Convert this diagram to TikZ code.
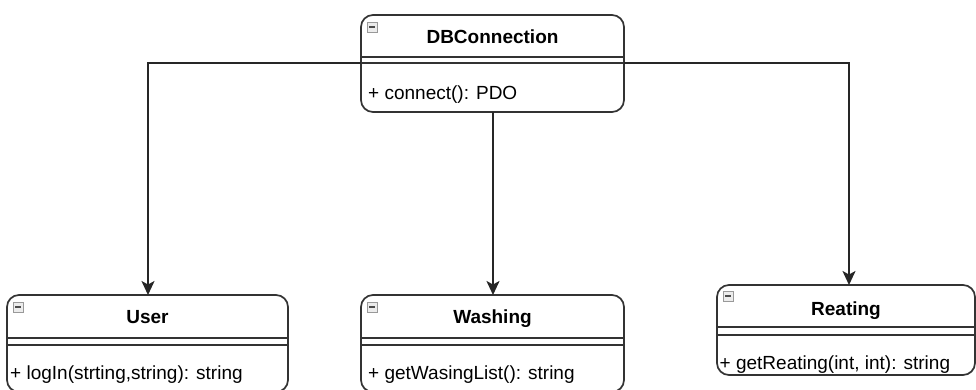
\documentclass[tikz,border=0pt]{standalone}
\usepackage{fontspec}
\setmainfont{Liberation Sans}
\usetikzlibrary{arrows.meta}
\newcommand{\umlminus}[2]{%
  \draw[gray!80, line width=0.9pt, fill=gray!15] (#1,#2) rectangle ++(10,10);
  \draw[black!70, line width=1.8pt] (#1+2.2,#2+5) -- ++(5.6,0);}
\begin{document}
\begin{tikzpicture}[x=1pt,y=-1pt,
  classbox/.style={draw=black!80, line width=1.7pt, rounded corners=12pt,
    inner sep=0pt, outer sep=0pt, anchor=north west},
  sepline/.style={draw=black!80, line width=1.7pt},
  titletext/.style={font=\fontsize{19}{22}\selectfont\bfseries, anchor=base, inner sep=0pt},
  methtext/.style={font=\fontsize{19}{22}\selectfont, anchor=base west, inner sep=0pt},
  conn/.style={draw=black!85, line width=1.8pt, -{Stealth[length=14pt,width=13pt,inset=3.5pt]}}]
\useasboundingbox (0,0) rectangle (976,389);
\clip (0,0) rectangle (976,389);
\fill[white] (0,0) rectangle (976,389);

% DBConnection
\node[classbox, minimum width=263pt, minimum height=97pt] (db) at (361,15) {};
\draw[sepline] (361,57) -- (624,57);
\draw[sepline] (361,63) -- (624,63);
\umlminus{367}{22}
\node[titletext] (dbt) at (492.5,43) {DBConnection};
\node[methtext] (dbm) at (368,99) {+ connect(): PDO};

% User
\node[classbox, minimum width=281pt, minimum height=97pt] (user) at (7,295) {};
\draw[sepline] (7,338) -- (288,338);
\draw[sepline] (7,345) -- (288,345);
\umlminus{13}{302}
\node[titletext] (usert) at (147.5,323) {User};
\node[methtext] (userm) at (10,379) {+ logIn(strting,string): string};

% Washing
\node[classbox, minimum width=263pt, minimum height=97pt] (wash) at (361,295) {};
\draw[sepline] (361,338) -- (624,338);
\draw[sepline] (361,345) -- (624,345);
\umlminus{367}{302}
\node[titletext] (washt) at (492.5,323) {Washing};
\node[methtext] (washm) at (368,379) {+ getWasingList(): string};

% Reating
\node[classbox, minimum width=258pt, minimum height=90pt] (reat) at (717,285) {};
\draw[sepline] (717,327) -- (975,327);
\draw[sepline] (717,335) -- (975,335);
\umlminus{723}{291}
\node[titletext] (reatt) at (846,315) {Reating};
\node[methtext] (reatm) at (719.5,369) {+ getReating(int, int): string};

% connectors
\coordinate (dbL) at (361,63);
\coordinate (dbR) at (624,63);
\draw[conn] (dbL) -| ([xshift=0.5pt]user.north);
\draw[conn] ([xshift=0.5pt]db.south) -- ([xshift=0.5pt]wash.north);
\draw[conn] (dbR) -| ([xshift=3pt]reat.north);
\end{tikzpicture}
\end{document}
